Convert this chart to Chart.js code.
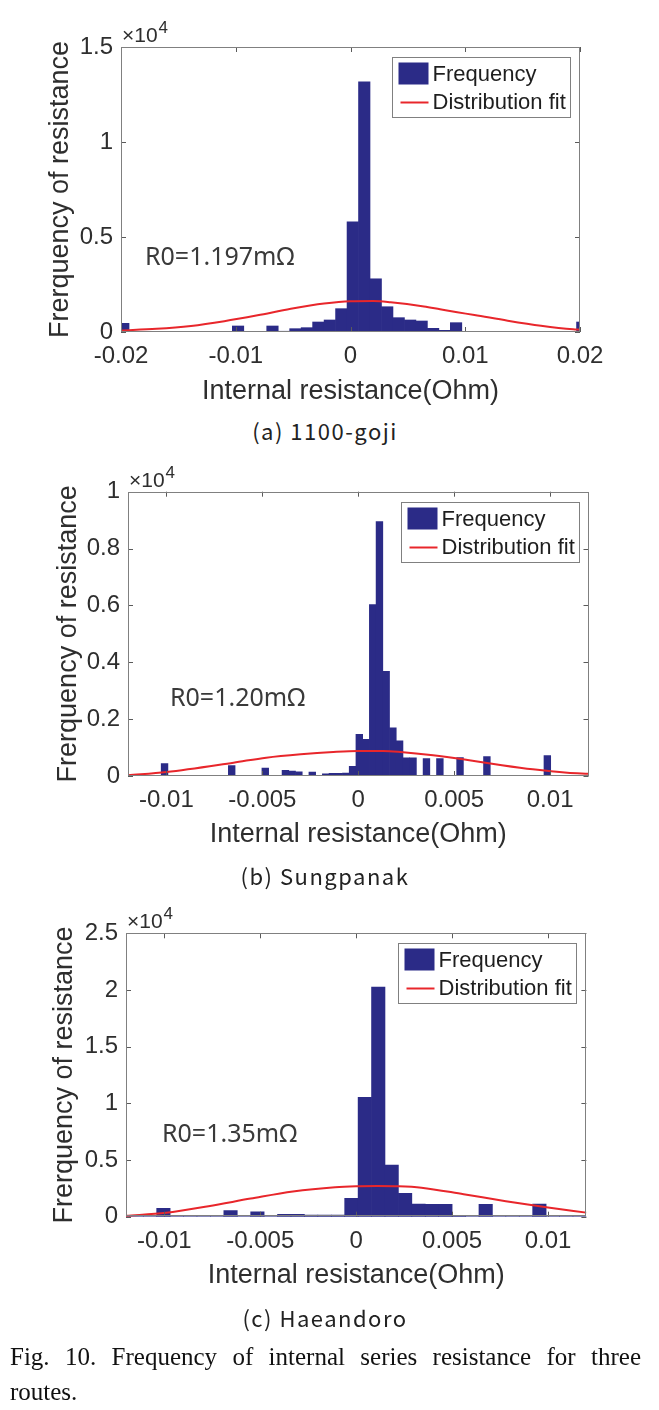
<!DOCTYPE html>
<html>
<head>
<meta charset="utf-8">
<script src="https://cdn.jsdelivr.net/npm/chart.js@4.4.1/dist/chart.umd.min.js"></script>
<style>
  body { margin: 0; background: #fff; }
  #page { position: relative; width: 659px; height: 1410px; overflow: hidden; }
  canvas { position: absolute; left: 0; }
  .sub { position: absolute; left: 0; width: 650px; text-align: center; font: 22px "Noto Sans CJK KR", sans-serif;
         letter-spacing: 1.5px; color: #222; line-height: 26px; }
  .fig { position: absolute; left: 10px; width: 631px; font: 25px "Liberation Serif", serif; color: #111;
         line-height: 30px; white-space: nowrap; }
  .fig.just { text-align: justify; text-align-last: justify; white-space: normal; }
</style>
</head>
<body>
<div id="page">
  <canvas id="chartA" width="659" height="410" style="top:0"></canvas>
  <div class="sub" style="top:417px">(a) 1100-goji</div>
  <canvas id="chartB" width="659" height="410" style="top:450px"></canvas>
  <div class="sub" style="top:862px">(b) Sungpanak</div>
  <canvas id="chartC" width="659" height="410" style="top:890px"></canvas>
  <div class="sub" style="top:1304px">(c) Haeandoro</div>
  <div class="fig just" style="top:1342px">Fig. 10. Frequency of internal series resistance for three</div>
  <div class="fig" style="top:1377px">routes.</div>
</div>
<script>
// -------------------- Data --------------------
// (a) 1100-goji : bins of 0.001 Ohm, first bin centred at -0.0198
const binStartA = -0.0198, binWidthA = 0.001;
const countsA = [456, 0, 0, 0, 0, 0, 20, 15, 0, 0, 316, 0, 15, 316, 40, 175, 228, 526, 632, 1228,
  5800, 13170, 2800, 1330, 754, 632, 579, 193, 88, 491, 20, 15, 12, 10, 8, 5, 5, 3, 0, 0, 526];
const fitXA = [-0.02, -0.0169, -0.0139, -0.011, -0.0081, -0.0052, -0.0023, 0, 0.002, 0.0035,
  0.0064, 0.0078, 0.0093, 0.0108, 0.0137, 0.0166, 0.0194, 0.02];
const fitYA = [80, 165, 320, 570, 880, 1220, 1495, 1615, 1628, 1560, 1340, 1195, 1040, 895, 595, 330, 140, 120];
const xTicksA = [-0.02, -0.01, 0, 0.01, 0.02];
const yTicksA = [0, 0.5, 1, 1.5];

// (b) Sungpanak : bins of 0.00035 Ohm
const binStartB = -0.011845, binWidthB = 0.00035;
const countsB = [0, 0, 0, 0, 0, 440, 0, 0, 0, 0, 0, 0, 0, 0, 0, 370, 0, 0, 0, 0, 280, 0, 0,
  200, 170, 150, 0, 140, 10, 80, 90, 90, 100, 340, 1470, 1290, 6030,
  8950, 3680, 1690, 1235, 640, 640, 0, 610, 0, 610, 0, 0, 645, 0, 15, 0, 680,
  0, 0, 0, 10, 0, 0, 0, 0, 720, 0, 0, 0, 0, 0, 0];
const fitXB = [-0.012, -0.01, -0.0065, -0.0048, -0.003, -0.0013, 0, 0.0013, 0.0022, 0.0039,
  0.0057, 0.0074, 0.0091, 0.0109, 0.012];
const fitYB = [25, 140, 470, 645, 765, 845, 880, 880, 845, 730, 565, 390, 235, 117, 80];
const xTicksB = [-0.01, -0.005, 0, 0.005, 0.01];
const yTicksB = [0, 0.2, 0.4, 0.6, 0.8, 1];

// (c) Haeandoro : bins of 0.0007 Ohm
const binStartC = -0.01215, binWidthC = 0.0007;
const countsC = [0, 0, 0, 740, 0, 0, 0, 0, 530, 0, 430, 0, 220, 220, 150, 140, 140, 1620, 10540,
  20250, 4560, 2060, 1120, 1100, 1100, 30, 0, 1100, 20, 0, 0, 1110, 0, 0, 0];
const fitXC = [-0.012, -0.0099, -0.0077, -0.0055, -0.0033, -0.0011, 0, 0.0011, 0.0022, 0.0034,
  0.0056, 0.0078, 0.01, 0.012];
const fitYC = [80, 350, 930, 1600, 2230, 2600, 2680, 2700, 2680, 2560, 1980, 1370, 820, 360];
const xTicksC = [-0.01, -0.005, 0, 0.005, 0.01];
const yTicksC = [0, 0.5, 1, 1.5, 2, 2.5];

// -------------------- Styles --------------------
const NAVY = '#2b2b87';
const RED = '#e8262b';
const TEXT = '#2e2e2e';
const BOX = '#808080';
const TICK = '#5a5a5a';
Chart.defaults.font.family = '"Liberation Sans", Arial, sans-serif';

// box, inward ticks, x10^4, R0 note and legend
const panelDecor = {
  id: 'panelDecor',
  afterDatasetsDraw(chart, args, o) {
    const {ctx, chartArea: a} = chart;
    const {x, y} = chart.scales;
    ctx.save();
    ctx.lineWidth = 1;
    ctx.strokeStyle = TICK;
    ctx.beginPath();
    x.ticks.forEach(t => {
      const px = Math.round(x.getPixelForValue(t.value)) + 0.5;
      ctx.moveTo(px, a.bottom); ctx.lineTo(px, a.bottom - 5);
      ctx.moveTo(px, a.top); ctx.lineTo(px, a.top + 5);
    });
    y.ticks.forEach(t => {
      const py = Math.round(y.getPixelForValue(t.value)) + 0.5;
      ctx.moveTo(a.left, py); ctx.lineTo(a.left + 5, py);
      ctx.moveTo(a.right, py); ctx.lineTo(a.right - 5, py);
    });
    ctx.stroke();
    ctx.strokeStyle = BOX;
    ctx.strokeRect(Math.round(a.left) + 0.5, Math.round(a.top) + 0.5,
      Math.round(a.right - a.left) - 1, Math.round(a.bottom - a.top) - 1);

    // exponent
    ctx.fillStyle = TEXT;
    ctx.textAlign = 'left';
    ctx.textBaseline = 'alphabetic';
    ctx.font = '21px "Liberation Sans"';
    ctx.fillText('\u00d710', a.left + 1, a.top - 5);
    const w = ctx.measureText('\u00d710').width;
    ctx.font = '17px "Liberation Sans"';
    ctx.fillText('4', a.left + 2 + w, a.top - 14);

    // R0 note
    ctx.font = '25px "Noto Sans"';
    ctx.fillStyle = '#3a3a3a';
    ctx.textBaseline = 'middle';
    ctx.fillText(o.note, o.noteX, o.noteY);

    // legend
    const ds = chart.data.datasets;
    const bw = 178, bh = 60;
    const bx = Math.round(a.right - 10 - bw) + 0.5, by = Math.round(a.top + 10) + 0.5;
    ctx.fillStyle = '#fff';
    ctx.fillRect(bx, by, bw, bh);
    ctx.strokeStyle = BOX;
    ctx.strokeRect(bx, by, bw, bh);
    ctx.fillStyle = NAVY;
    ctx.fillRect(bx + 6, by + 5, 30, 22);
    ctx.strokeStyle = RED;
    ctx.lineWidth = 2;
    ctx.beginPath();
    ctx.moveTo(bx + 8, by + 45); ctx.lineTo(bx + 36, by + 45);
    ctx.stroke();
    ctx.fillStyle = '#1e1e1e';
    ctx.font = '22px "Liberation Sans"';
    ctx.fillText(ds[1].label, bx + 40, by + 17);
    ctx.fillText(ds[0].label, bx + 40, by + 45);
    ctx.restore();
  }
};

function makeChart(id, cfg){
  const bars = cfg.counts.map((c, i) => ({x: cfg.binStart + i * cfg.binWidth, y: c}));
  const fit = cfg.fitX.map((x, i) => ({x, y: cfg.fitY[i]}));
  return new Chart(document.getElementById(id), {
    type: 'bar',
    data: {
      datasets: [
        {type: 'line', label: 'Distribution fit', data: fit, borderColor: RED, borderWidth: 2,
         pointRadius: 0, cubicInterpolationMode: 'monotone', order: 0},
        {label: 'Frequency', data: bars, backgroundColor: NAVY, borderWidth: 0,
         barPercentage: 1, categoryPercentage: 1, grouped: false, clip: 0, order: 1}
      ]
    },
    options: {
      responsive: false,
      animation: false,
      devicePixelRatio: 1,
      layout: {padding: {top: cfg.top, right: cfg.right, left: 0, bottom: 0}},
      plugins: {
        legend: {display: false},
        tooltip: {enabled: false},
        panelDecor: {note: cfg.note, noteX: cfg.noteX, noteY: cfg.noteY}
      },
      scales: {
        x: {
          type: 'linear', min: cfg.xMin, max: cfg.xMax, bounds: 'data', offset: false,
          grid: {display: false, drawTicks: false, offset: false}, border: {display: false},
          afterBuildTicks: s => { s.ticks = cfg.xTicks.map(v => ({value: v})); },
          afterFit: s => { s.height = cfg.xHeight; },
          ticks: {autoSkip: false, maxRotation: 0, padding: 10, color: TEXT, font: {size: 24},
                  callback: v => String(+v.toFixed(4))},
          title: {display: true, text: 'Internal resistance(Ohm)', color: TEXT, font: {size: 27},
                  padding: {top: 0, bottom: cfg.xTitlePad}}
        },
        y: {
          min: 0, max: cfg.yMax, bounds: 'data',
          grid: {display: false, drawTicks: false}, border: {display: false},
          afterBuildTicks: s => { s.ticks = cfg.yTicks.map(v => ({value: v * 1e4})); },
          afterFit: s => { s.width = cfg.yWidth; },
          ticks: {padding: 8, color: TEXT, font: {size: 24},
                  callback: v => String(+(v / 1e4).toFixed(3))},
          title: {display: true, text: 'Frerquency of resistance', color: TEXT, font: {size: 27},
                  padding: {top: cfg.yTitlePad, bottom: 0}}
        }
      }
    },
    plugins: [panelDecor]
  });
}

makeChart('chartA', {
  counts: countsA, binStart: binStartA, binWidth: binWidthA, fitX: fitXA, fitY: fitYA,
  xTicks: xTicksA, yTicks: yTicksA, xMin: -0.02, xMax: 0.02, yMax: 15000,
  top: 47, right: 79, yWidth: 121, xHeight: 78, xTitlePad: 2, yTitlePad: 44,
  note: 'R0=1.197m\u03a9', noteX: 145, noteY: 258
});
makeChart('chartB', {
  counts: countsB, binStart: binStartB, binWidth: binWidthB, fitX: fitXB, fitY: fitYB,
  xTicks: xTicksB, yTicks: yTicksB, xMin: -0.012, xMax: 0.012, yMax: 10000,
  top: 41.7, right: 70.5, yWidth: 128, xHeight: 84, xTitlePad: 9, yTitlePad: 52,
  note: 'R0=1.20m\u03a9', noteX: 170, noteY: 249
});
makeChart('chartC', {
  counts: countsC, binStart: binStartC, binWidth: binWidthC, fitX: fitXC, fitY: fitYC,
  xTicks: xTicksC, yTicks: yTicksC, xMin: -0.012, xMax: 0.012, yMax: 25000,
  top: 43.3, right: 72.6, yWidth: 126, xHeight: 83.3, xTitlePad: 8, yTitlePad: 48,
  note: 'R0=1.35m\u03a9', noteX: 162, noteY: 245
});
</script>
</body>
</html>
